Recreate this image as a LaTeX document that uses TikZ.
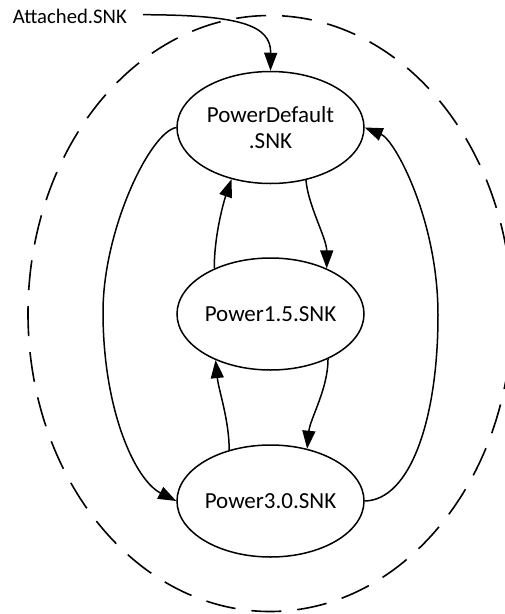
\documentclass[tikz,border=0pt]{standalone}
\usepackage{fontspec}
\setmainfont{Carlito}
\usetikzlibrary{arrows.meta,shapes.geometric}
\begin{document}
\begin{tikzpicture}[x=1pt,y=-1pt,
  state/.style={ellipse,draw,line width=1.5pt,minimum width=187pt,minimum height=112pt,inner sep=0pt,align=center,font=\fontsize{23}{26.6}\selectfont},
  trans/.style={line width=1.5pt,-{Triangle[length=18pt,width=13pt]}},
  region/.style={line width=1.6pt,dash pattern=on 30pt off 16pt}]
\useasboundingbox (0,0) rectangle (505,614);
\clip (0,0) rectangle (505,614);
\draw[region] (270,313.5) ellipse [x radius=242,y radius=298];
\node[state] (pd) at (270.5,127.5) {PowerDefault\\.SNK};
\node[state] (p1) at (270.5,314) {Power1.5.SNK};
\node[state] (p3) at (270.5,501) {Power3.0.SNK};
\node[anchor=base west,inner sep=0pt,font=\fontsize{20.7}{24}\selectfont] (att) at (12.7,23.3) {Attached.SNK};
\draw[trans] ([xshift=16pt,yshift=1.5pt]att.east) .. controls (240,15) and (271,25) .. (pd.north);
\draw[trans] (pd.west) .. controls (150,132) and (103,230) .. (103,312) .. controls (103,410) and (135,480) .. (p3.west);
\draw[trans] (p3.east) .. controls (410,500) and (438,420) .. (438,315) .. controls (438,220) and (395,140) .. (pd.east);
\draw[trans] (pd.-56) .. controls +(2,25) and +(0,-30) .. (p1.39);
\draw[trans] (p1.141) .. controls +(0,-35) and +(-7,20) .. (pd.-127);
\draw[trans] (p1.-38) .. controls +(0,30) and +(3,-30) .. (p3.55);
\draw[trans] (p3.129) .. controls +(0,-30) and +(3,30) .. (p1.-140);
\end{tikzpicture}
\end{document}
